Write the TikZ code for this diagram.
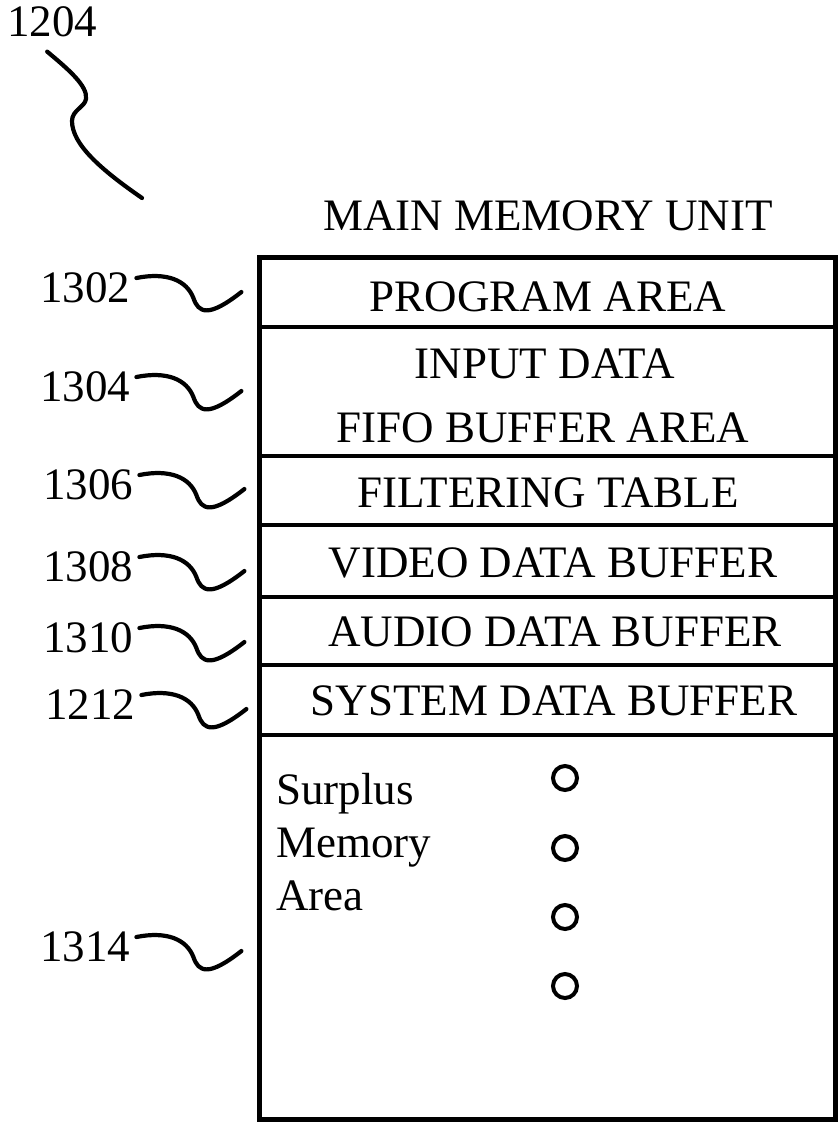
\documentclass[tikz,border=0pt]{standalone}
\usepackage{fontspec}
\setmainfont{Liberation Serif}
\usetikzlibrary{calc}

\tikzset{
  txt/.style={font=\fontsize{45}{54}\selectfont, inner sep=0pt, anchor=base},
  reflabel/.style={font=\fontsize{45}{54}\selectfont, inner sep=0pt, anchor=base west},
  lead/.style={line width=4.2pt, line cap=round, line join=round},
  frame/.style={line width=5pt},
  divider/.style={line width=4pt},
  dot/.style={draw, circle, line width=4pt, minimum size=24pt, inner sep=0pt},
}

% wavy reference lead drawn from the right end of a numeral label
\newcommand\refcurve[1]{%
  \draw[lead] ($(#1.base east)+(6,-24)$)
    .. controls +(30,-6) and +(-7,-18) .. ++(57,20)
    .. controls +(5,15) and +(-33,26) .. ++(48,-6) coordinate (#1-end);}

\begin{document}
\begin{tikzpicture}[x=1pt, y=-1pt]
\useasboundingbox (0,0) rectangle (838,1129);

% overall reference numeral and its lead
\node[reflabel] (l1204) at (7,37) {1204};
\coordinate (c1204) at ($(l1204.south)+(-5,14)$);
\coordinate (e1204) at (142,198);
\draw[lead] (c1204) .. controls (68,69) and (88,86) .. (86,99)
  .. controls (85,107) and (72,110) .. (72,121)
  .. controls (72,144) and (100,169) .. (e1204);

% memory map frame and partitions
\node[txt] (title) at (548,230) {MAIN MEMORY UNIT};
\draw[frame] (259,257.5) rectangle (835,1119);
\foreach \y in {326.5,456,525,597,665,734.5}
  {\draw[divider] (259,\y) -- (835,\y);}

% partition captions
\node[txt] (prog)  at (548,311) {PROGRAM AREA};
\node[txt] (inp)   at (545,378) {INPUT DATA};
\node[txt] (fifo)  at (543,442) {FIFO BUFFER AREA};
\node[txt] (filt)  at (548,507) {FILTERING TABLE};
\node[txt] (video) at (553,577) {VIDEO DATA BUFFER};
\node[txt] (audio) at (555,646) {AUDIO DATA BUFFER};
\node[txt] (sys)   at (554,715) {SYSTEM DATA BUFFER};

% surplus region
\node[reflabel] (sp1) at (276,804) {Surplus};
\node[reflabel] (sp2) at (276,857) {Memory};
\node[reflabel] (sp3) at (276,910) {Area};
\node[dot] (d1) at (565,778) {};
\node[dot] (d2) at (565,848) {};
\node[dot] (d3) at (565,917) {};
\node[dot] (d4) at (565,986) {};

% reference numerals of the partitions
\node[reflabel] (l1302) at (40,302) {1302};
\node[reflabel] (l1304) at (40,401) {1304};
\node[reflabel] (l1306) at (43,499) {1306};
\node[reflabel] (l1308) at (43,581) {1308};
\node[reflabel] (l1310) at (43,652) {1310};
\node[reflabel] (l1212) at (45,719) {1212};
\node[reflabel] (l1314) at (40,961) {1314};
\foreach \n in {l1302,l1304,l1306,l1308,l1310,l1212,l1314}
  {\refcurve{\n}}
\end{tikzpicture}
\end{document}
